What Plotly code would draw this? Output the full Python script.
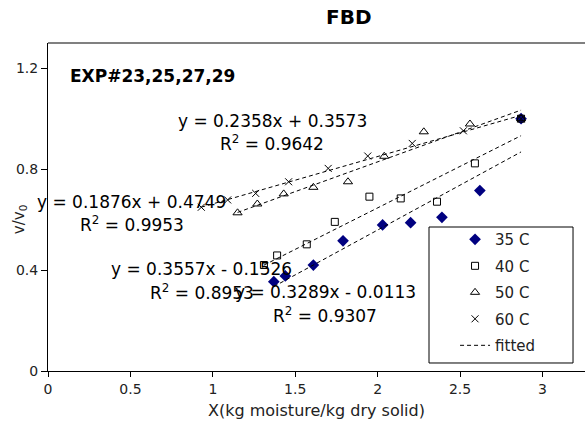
import numpy as np
import plotly.graph_objects as go

# Moisture content X (kg moisture / kg dry solid) and normalised rate v/v0
x35 = [1.37, 1.44, 1.61, 1.79, 2.03, 2.20, 2.39, 2.62, 2.87]
y35 = [0.354, 0.377, 0.420, 0.516, 0.579, 0.588, 0.609, 0.715, 1.0]

x40 = [1.31, 1.39, 1.57, 1.74, 1.95, 2.14, 2.36, 2.59, 2.87]
y40 = [0.420, 0.458, 0.502, 0.591, 0.691, 0.684, 0.671, 0.823, 1.0]

x50 = [1.15, 1.27, 1.43, 1.61, 1.82, 2.04, 2.28, 2.56, 2.87]
y50 = [0.627, 0.662, 0.702, 0.728, 0.750, 0.851, 0.948, 0.979, 1.0]

x60 = [0.93, 1.09, 1.26, 1.46, 1.70, 1.94, 2.21, 2.52, 2.87]
y60 = [0.649, 0.678, 0.704, 0.750, 0.803, 0.852, 0.902, 0.952, 1.0]

series_names = ["35 C", "40 C", "50 C", "60 C"]

# Linear trendlines: slope, intercept, R^2
slopes = [0.3557, 0.3289, 0.2358, 0.1876]
intercepts = [-0.1526, -0.0113, 0.3573, 0.4749]
r_squared = [0.8953, 0.9307, 0.9642, 0.9953]

# Where each equation label sits (data coordinates of the equation line)
label_x = [0.933, 1.681, 1.362, 0.507]
label_y = [0.403, 0.312, 0.991, 0.671]

xs_all = [x35, x40, x50, x60]
ys_all = [y35, y40, y50, y60]

markers = [
    dict(symbol="diamond", size=9, color="#000080", line=dict(width=0)),
    dict(symbol="square-open", size=7, color="black", line=dict(width=1)),
    dict(symbol="triangle-up-open", size=8, color="black", line=dict(width=1)),
    dict(symbol="x-thin-open", size=7, color="black", line=dict(width=1, color="black")),
]

FONT = "DejaVu Sans"
fig = go.Figure()

for i, name in enumerate(series_names):
    fig.add_trace(go.Scatter(
        x=xs_all[i], y=ys_all[i], mode="markers", name=name,
        marker=markers[i], legendgroup=name, legendrank=i + 1,
    ))

for i in range(4):
    xx = np.array([min(xs_all[i]), max(xs_all[i])])
    yy = slopes[i] * xx + intercepts[i]
    fig.add_trace(go.Scatter(
        x=xx, y=yy, mode="lines", name="fitted",
        line=dict(color="black", width=1, dash="4px,3px"),
        legendgroup="fitted", legendrank=10, showlegend=(i == 0),
    ))

annotations = []
for i in range(4):
    sign = "+" if intercepts[i] >= 0 else "-"
    eq = f"y = {slopes[i]:.4f}x {sign} {abs(intercepts[i]):.4f}"
    r2 = f"R<sup>2</sup> = {r_squared[i]:.4f}"
    annotations.append(dict(
        x=label_x[i], y=label_y[i], xref="x", yref="y", showarrow=False,
        text=eq, font=dict(family=FONT, size=17, color="black"),
        xanchor="center", yanchor="middle",
    ))
    annotations.append(dict(
        x=label_x[i], y=label_y[i] - 0.089, xref="x", yref="y", showarrow=False,
        text=r2, font=dict(family=FONT, size=17, color="black"),
        xanchor="center", yanchor="middle",
    ))

annotations += [
    dict(x=0.121, y=1.169, xref="x", yref="y", showarrow=False,
         text="<b>EXP#23,25,27,29</b>", xanchor="left", yanchor="middle",
         font=dict(family=FONT, size=17, color="black")),
    dict(x=0.5, y=-0.119, xref="paper", yref="paper", showarrow=False,
         text="X(kg moisture/kg dry solid)", xanchor="center", yanchor="middle",
         font=dict(family=FONT, size=16, color="#222")),
    dict(x=-0.054, y=0.463, xref="paper", yref="paper", showarrow=False,
         text="v/v<sub>0</sub>", textangle=-90, xanchor="center", yanchor="middle",
         font=dict(family=FONT, size=15, color="#222")),
    dict(x=0.56, y=1.0, xref="paper", yref="paper", showarrow=False,
         text="<b>FBD</b>", xanchor="center", yanchor="bottom", yshift=12,
         font=dict(family=FONT, size=20, color="black")),
]

fig.update_layout(
    width=585, height=421,
    margin=dict(l=48, r=0, t=43, b=50),
    paper_bgcolor="white", plot_bgcolor="white",
    font=dict(family=FONT, size=14, color="#222"),
    showlegend=True,
    legend=dict(
        x=0.758, y=0.451, xanchor="left", yanchor="top",
        bgcolor="rgba(0,0,0,0)", borderwidth=0,
        traceorder="grouped", tracegroupgap=4,
        font=dict(family=FONT, size=15, color="#222"),
    ),
    annotations=annotations,
    shapes=[
        dict(type="line", xref="paper", yref="paper", x0=0, x1=1, y0=1, y1=1,
             line=dict(color="#808080", width=2)),
        dict(type="rect", xref="paper", yref="paper",
             x0=0.7095, x1=0.9777, y0=0.0244, y1=0.439,
             line=dict(color="black", width=1), fillcolor="white", layer="below"),
    ],
)

fig.update_xaxes(
    range=[0, 3.258], dtick=0.5, tick0=0, showgrid=False, zeroline=False,
    showline=True, linecolor="black", linewidth=1,
    ticks="outside", ticklen=5, tickcolor="black",
    tickfont=dict(family=FONT, size=14, color="#222"),
)
fig.update_yaxes(
    range=[0, 1.3], tickvals=[0, 0.4, 0.8, 1.2], ticktext=["0", "0.4", "0.8", "1.2"],
    showgrid=False, zeroline=False,
    showline=True, linecolor="black", linewidth=1,
    ticks="outside", ticklen=6, tickcolor="black",
    tickfont=dict(family=FONT, size=14, color="#222"),
)

fig.write_html("out.html")
